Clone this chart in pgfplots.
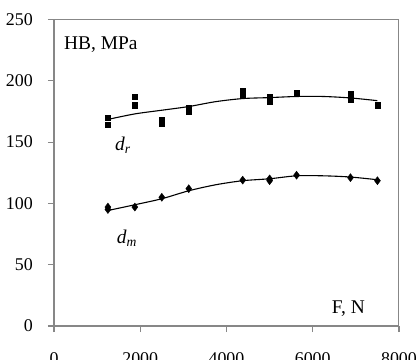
\documentclass[border=0pt]{standalone}
\usepackage{fontspec}
\setmainfont{Liberation Serif}
\usepackage{pgfplots}
\pgfplotsset{compat=1.18}
\definecolor{axgray}{RGB}{135,135,135}
\begin{document}
\begin{tikzpicture}
\useasboundingbox (-54bp,-34bp) rectangle (365bp,326bp);
\begin{axis}[
  at={(0,0)}, anchor=south west,
  scale only axis, width=345bp, height=306.5bp,
  xmin=0, xmax=8000, ymin=0, ymax=250,
  xtick={0,2000,4000,6000,8000},
  ytick={0,50,100,150,200,250},
  scaled x ticks=false,
  xticklabel={\pgfmathprintnumber[fixed,1000 sep={}]{\tick}},
  /pgf/number format/assume math mode=true,
  /pgf/number format/1000 sep={},
  axis line style={draw=none},
  tick style={draw=axgray, line width=1.1bp},
  major tick length=6bp,
  tick align=outside,
  xtick pos=left, ytick pos=left,
  ticklabel style={font=\fontsize{18}{20}\selectfont, text=black},
  yticklabel style={anchor=east, inner sep=0pt, xshift=-15bp},
  xticklabel style={anchor=base, inner sep=0pt, yshift=-32.5bp},
  clip=false,
]
\addplot[only marks, mark=square*, mark size=2.7bp, black] coordinates {
(1250,170) (1250,164) (1875,187) (1875,180) (2500,168) (2500,165)
(3125,178) (3125,175) (4375,192) (4375,189) (5000,187) (5000,183)
(5625,190) (6875,189) (6875,185) (7500,180)};
\addplot[only marks, mark=diamond*, mark size=4bp, black] coordinates {
(1250,97) (1250,95) (1875,97) (2500,105) (3125,112) (4375,119)
(5000,120) (5000,118.5) (5625,123) (6875,121) (7500,118.5)};
\addplot[smooth, black, line width=1.1bp, mark=none] coordinates {
(1250,168.5) (1875,173) (2500,176) (3125,179) (3750,183) (4375,185.5)
(5000,186.3) (5625,187.2) (6250,187.2) (6875,186) (7500,183.8)};
\addplot[smooth, black, line width=1.1bp, mark=none] coordinates {
(1250,94.2) (1875,98.9) (2500,103.8) (3125,110.3) (3750,115.2) (4375,118.5)
(5000,120.1) (5625,122.5) (6250,122.5) (6875,121.5) (7500,119.3)};
\node[anchor=base west, inner sep=0pt, font=\fontsize{19.5}{22}\selectfont] at (axis cs:232,225.5) {HB, MPa};
\node[anchor=base west, inner sep=0pt, font=\fontsize{19.5}{22}\selectfont] at (axis cs:6440,9.8) {F, N};
\node[anchor=base west, inner sep=0pt, font=\fontsize{19.5}{22}\selectfont] at (axis cs:1415,143.2) {\textit{d}\textsubscript{\textit{r}}};
\node[anchor=base west, inner sep=0pt, font=\fontsize{19.5}{22}\selectfont] at (axis cs:1454,67.6) {\textit{d}\textsubscript{\textit{m}}};
\end{axis}
\draw[axgray, line width=1.1bp] (0,0) rectangle (344.5bp,306.5bp);
\end{tikzpicture}
\end{document}
